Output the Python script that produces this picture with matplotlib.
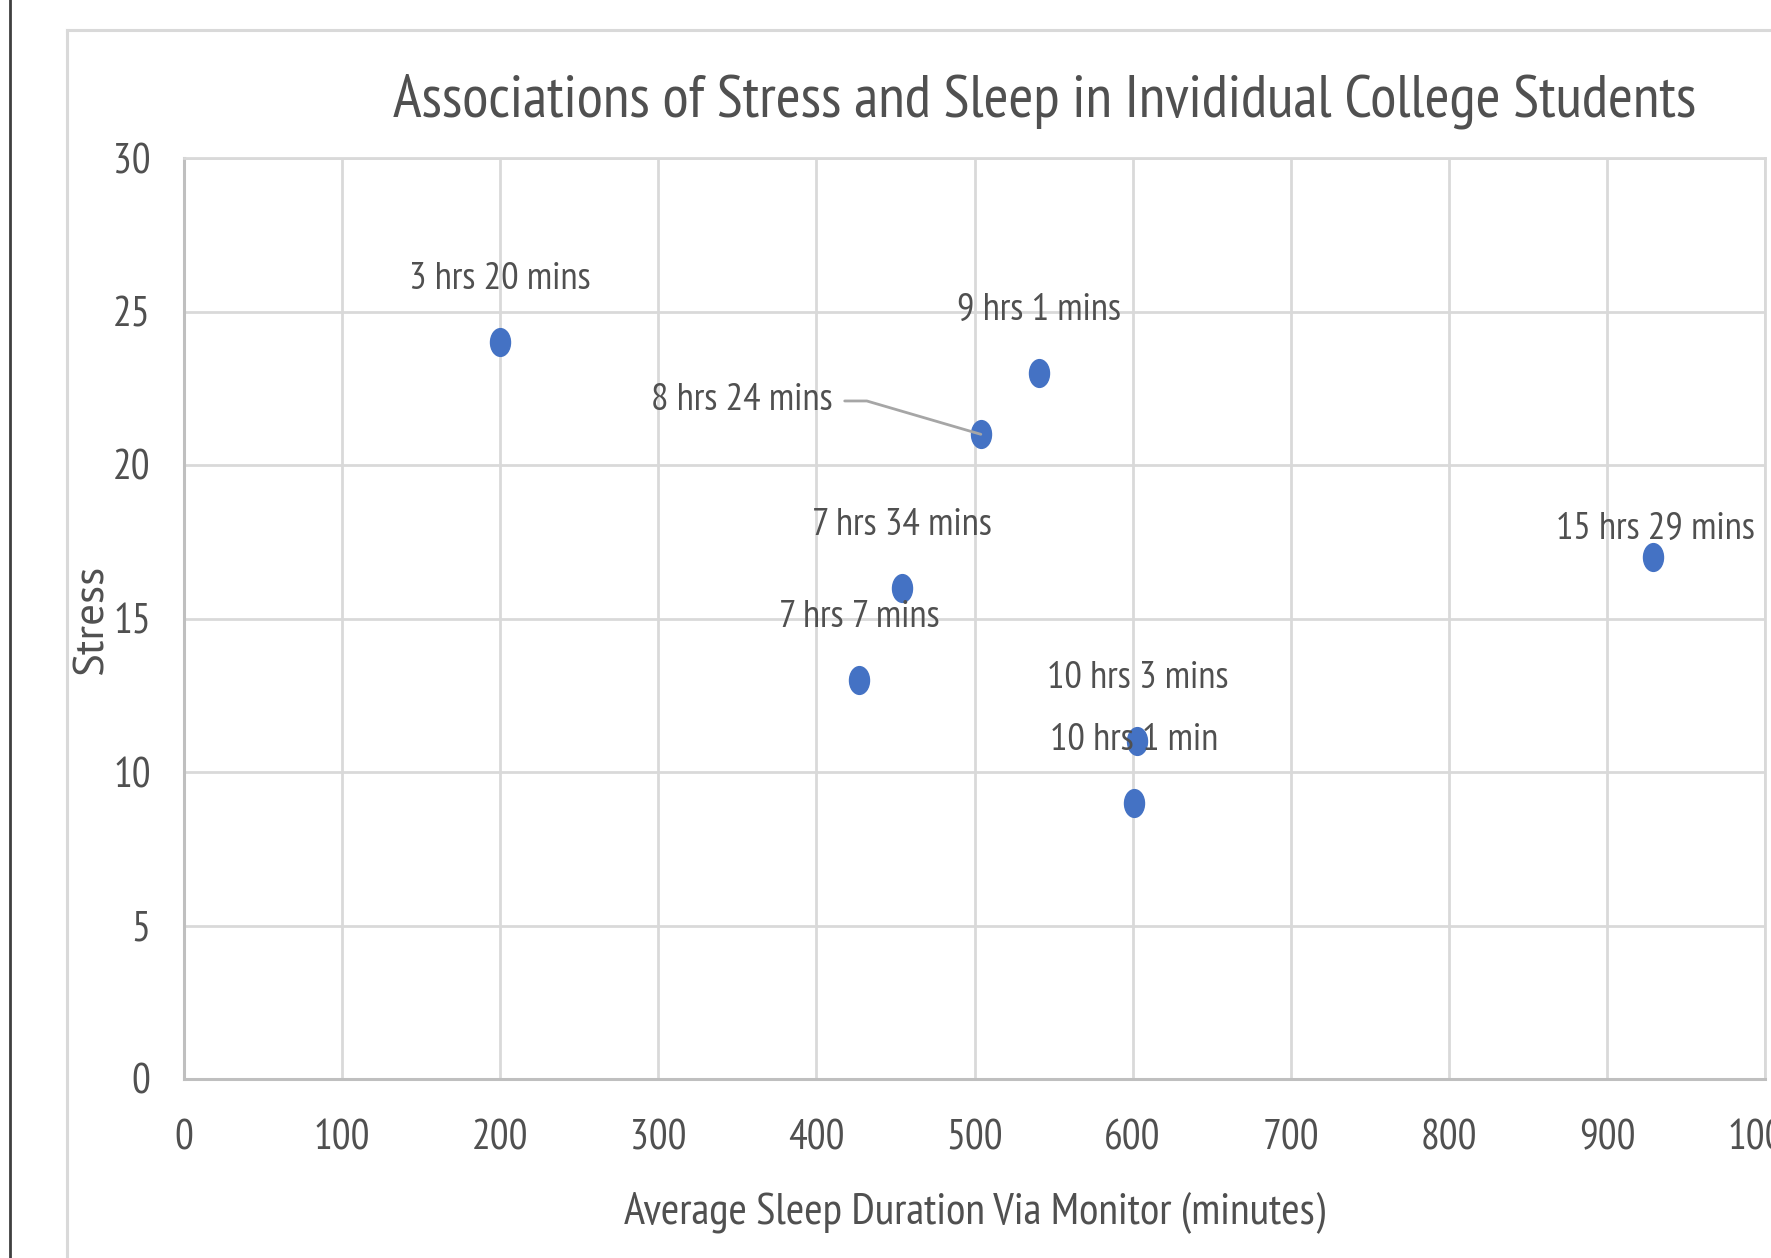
import matplotlib
matplotlib.use("Agg")
import matplotlib.pyplot as plt
from matplotlib.lines import Line2D
from matplotlib.path import Path
from matplotlib.transforms import Affine2D

# data
sleep_minutes = [200, 541, 504, 454, 427, 603, 601, 929]
stress = [24, 23, 21, 16, 13, 11, 9, 17]
point_labels = ["3 hrs 20 mins", "9 hrs 1 mins", "8 hrs 24 mins", "7 hrs 34 mins",
                "7 hrs 7 mins", "10 hrs 3 mins", "10 hrs 1 min", "15 hrs 29 mins"]
x_ticks = [0, 100, 200, 300, 400, 500, 600, 700, 800, 900, 1000]
y_ticks = [0, 5, 10, 15, 20, 25, 30]

title = "Associations of Stress and Sleep in Invididual College Students"
x_title = "Average Sleep Duration Via Monitor (minutes)"
y_title = "Stress"

TEXT = "#505050"
GRID = "#D9D9D9"
AXIS = "#BFBFBF"
DOT = "#4472C4"
NARROW = ["PT Sans Narrow", "Roboto Condensed", "DejaVu Sans"]

plt.rcParams["font.family"] = NARROW

fig = plt.figure(figsize=(17.71, 12.58), dpi=100, facecolor="white")

# outer black edge and the grey chart-area frame
fig.add_artist(Line2D([10 / 1771, 10 / 1771], [0, 1], color="#404040", lw=2,
                      transform=fig.transFigure))
frame_x0 = 67 / 1771
frame_y1 = 1 - 30 / 1258
fig.add_artist(Line2D([frame_x0, 1], [frame_y1, frame_y1], color=GRID, lw=2.2,
                      transform=fig.transFigure))
fig.add_artist(Line2D([frame_x0, frame_x0], [0, frame_y1], color=GRID, lw=2.2,
                      transform=fig.transFigure))

ax = fig.add_axes([184 / 1771, 1 - 1079 / 1258, (1765 - 184) / 1771, (1079 - 158) / 1258])
ax.set_xlim(0, 1000)
ax.set_ylim(0, 30)
ax.set_xticks(x_ticks)
ax.set_yticks(y_ticks)
ax.grid(True, color=GRID, lw=2)
ax.set_axisbelow(True)
for side in ["top", "right"]:
    ax.spines[side].set_color(GRID)
    ax.spines[side].set_linewidth(2)
for side in ["left", "bottom"]:
    ax.spines[side].set_color(AXIS)
    ax.spines[side].set_linewidth(2.2)
ax.tick_params(axis="both", length=0, labelsize=30, labelcolor=TEXT)
ax.tick_params(axis="x", pad=29)
ax.tick_params(axis="y", pad=24)

# dots are slightly taller than wide in the reference
ellipse = Path.unit_circle().transformed(Affine2D().scale(0.72, 1.0))
ax.plot(sleep_minutes, stress, linestyle="none", marker=ellipse, markersize=20,
        color=DOT, zorder=3)

LABEL_SIZE = 28
for x, y, lab in zip(sleep_minutes, stress, point_labels):
    if lab == "8 hrs 24 mins":
        ax.annotate(lab, (x, y), xytext=(-107, 24), textcoords="offset points",
                    ha="right", va="center", fontsize=LABEL_SIZE, color=TEXT,
                    arrowprops=dict(arrowstyle="-", color="#A6A6A6", lw=2,
                                    relpos=(1, 0.5), patchA=None, shrinkA=9, shrinkB=0,
                                    connectionstyle="angle,angleA=0,angleB=163.7,rad=0"))
    elif lab == "15 hrs 29 mins":
        ax.annotate(lab, (x, y), xytext=(2, 20), textcoords="offset points",
                    ha="center", va="center", fontsize=LABEL_SIZE, color=TEXT)
    else:
        ax.annotate(lab, (x, y), xytext=(0, 45), textcoords="offset points",
                    ha="center", va="center", fontsize=LABEL_SIZE, color=TEXT)

ax.set_xlabel(x_title, fontsize=32, color=TEXT, va="center")
ax.xaxis.set_label_coords(0.5, -0.1444)
ax.set_ylabel(y_title, fontsize=31, color=TEXT, family=["PT Sans", "DejaVu Sans"],
              va="center", ha="center")
ax.yaxis.set_label_coords(-0.058, 0.4995)

fig.text(1045 / 1771, 1 - 101 / 1258, title, fontsize=43.5, color=TEXT,
         ha="center", va="center")

plt.savefig("out.png", dpi=100)
plt.close()
